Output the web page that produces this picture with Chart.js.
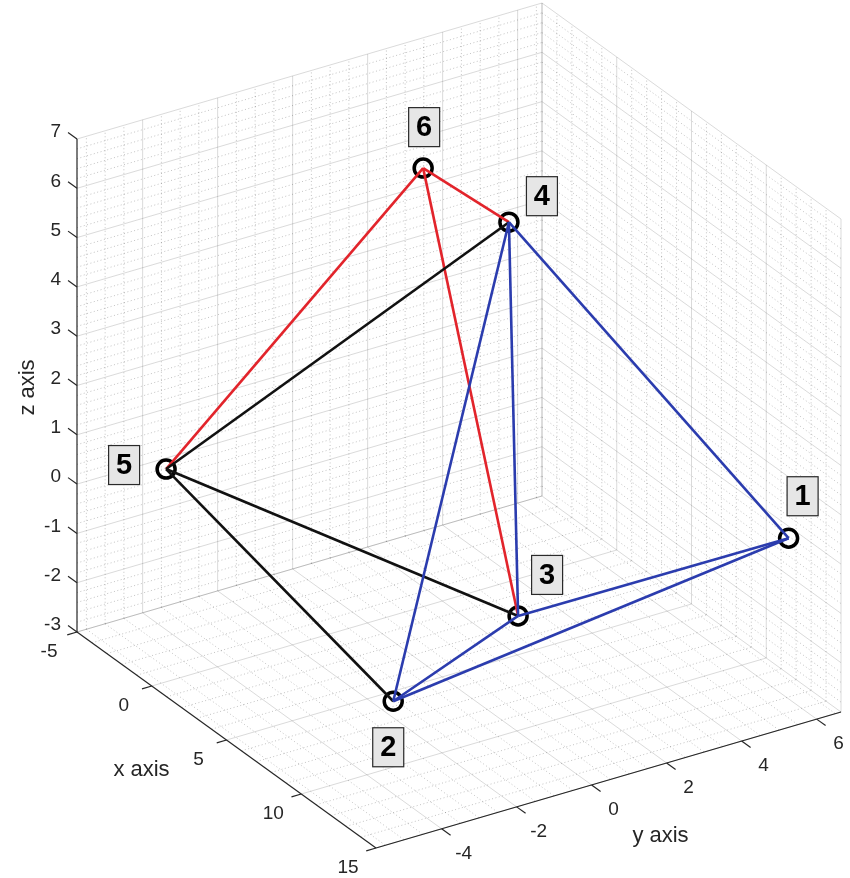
<!DOCTYPE html>
<html><head><meta charset="utf-8">
<script src="https://cdn.jsdelivr.net/npm/chart.js@4.4.1/dist/chart.umd.min.js"></script>
<style>html,body{margin:0;padding:0;background:#fff;overflow:hidden}</style>
</head><body>
<canvas id="c" width="850" height="878"></canvas>
<script>
// ---------------- data ----------------
const nodeIds = ['1', '2', '3', '4', '5', '6'];
const nodeX = [13, 8, 8, 4, -2, 2];
const nodeY = [6.05, -2.5, 0.83, 2.18, -4.57, 0.69];
const nodeZ = [0.22, -2.28, -1.29, 5.52, 0.70, 6.51];
const blueEdges = [[4, 1], [4, 2], [4, 3], [1, 2], [1, 3], [2, 3]];
const blackEdges = [[5, 4], [5, 3], [5, 2]];
const redEdges = [[6, 5], [6, 4], [6, 3]];
const xTicks = [-5, 0, 5, 10, 15];
const yTicks = [-4, -2, 0, 2, 4, 6];
const zTicks = [-3, -2, -1, 0, 1, 2, 3, 4, 5, 6, 7];
const xLimits = [-5, 15];
const yLimits = [-5.75, 6.65];
const zLimits = [-3, 7];
const axisTitles = { x: 'x axis', y: 'y axis', z: 'z axis' };
const minorStep = { x: 1, y: 0.5, z: 0.2 };

// ---------------- view / style ----------------
const view = { origin: [77, 632], ex: [299, 216], ey: [465, -136], ez: [0, -493] };
const labelOffsets = [[14, -42], [-5, 46], [29, -41], [33, -26], [-42, -4], [1, -41]];
const colors = { blue: '#2b3cae', black: '#111111', red: '#e2242b', axis: '#262626' };
const FONT = '"Liberation Sans", Arial, Helvetica, sans-serif';

function proj(x, y, z) {
  const u = (x - xLimits[0]) / (xLimits[1] - xLimits[0]);
  const v = (y - yLimits[0]) / (yLimits[1] - yLimits[0]);
  const w = (z - zLimits[0]) / (zLimits[1] - zLimits[0]);
  return {
    x: view.origin[0] + u * view.ex[0] + v * view.ey[0] + w * view.ez[0],
    y: view.origin[1] + u * view.ex[1] + v * view.ey[1] + w * view.ez[1]
  };
}
function stepValues(lo, hi, step, exclude) {
  const out = [];
  const n0 = Math.ceil(lo / step - 1e-9), n1 = Math.floor(hi / step + 1e-9);
  for (let n = n0; n <= n1; n++) {
    const v = Math.round(n * step * 1000) / 1000;
    if (!exclude.some(e => Math.abs(e - v) < 1e-6)) out.push(v);
  }
  return out;
}

const datasets = [];
function seg(a, b, style) {
  datasets.push(Object.assign({
    data: [proj(a[0], a[1], a[2]), proj(b[0], b[1], b[2])],
    showLine: true, pointRadius: 0, pointHoverRadius: 0, fill: false, tension: 0
  }, style));
}

const [x0, x1] = xLimits, [y0, y1] = yLimits, [z0, z1] = zLimits;
const majorStyle = { borderColor: 'rgba(38,38,38,0.17)', borderWidth: 1, order: 100 };
const minorStyle = { borderColor: 'rgba(38,38,38,0.28)', borderWidth: 1, borderDash: [1, 2.5], order: 101 };

const xMinor = stepValues(x0, x1, minorStep.x, xTicks);
const yMinor = stepValues(y0, y1, minorStep.y, yTicks);
const zMinor = stepValues(z0, z1, minorStep.z, zTicks);

function gridSet(xs, ys, zs, style) {
  // floor z = z0
  xs.forEach(x => seg([x, y0, z0], [x, y1, z0], style));
  ys.forEach(y => seg([x0, y, z0], [x1, y, z0], style));
  // left wall x = x0
  ys.forEach(y => seg([x0, y, z0], [x0, y, z1], style));
  zs.forEach(z => seg([x0, y0, z], [x0, y1, z], style));
  // right wall y = y1
  xs.forEach(x => seg([x, y1, z0], [x, y1, z1], style));
  zs.forEach(z => seg([x0, y1, z], [x1, y1, z], style));
}
gridSet(xMinor, yMinor, zMinor, minorStyle);
gridSet(xTicks, yTicks, zTicks, majorStyle);
seg([x0, y1, z0], [x0, y1, z1], majorStyle);

// axes lines and tick marks
const axisStyle = { borderColor: colors.axis, borderWidth: 1.2, order: 50 };
seg([x0, y0, z0], [x0, y0, z1], axisStyle);
seg([x0, y0, z0], [x1, y0, z0], axisStyle);
seg([x1, y0, z0], [x1, y1, z0], axisStyle);
zTicks.forEach(z => seg([x0, y0, z], [x0 - 0.6, y0, z], axisStyle));
xTicks.forEach(x => seg([x, y0, z0], [x, y0 - 0.26, z0], axisStyle));
yTicks.forEach(y => seg([x1, y, z0], [x1 + 0.6, y, z0], axisStyle));

// data edges
function node(i) { return [nodeX[i - 1], nodeY[i - 1], nodeZ[i - 1]]; }
redEdges.forEach(e => seg(node(e[0]), node(e[1]), { borderColor: colors.red, borderWidth: 2.6, order: 3 }));
blackEdges.forEach(e => seg(node(e[0]), node(e[1]), { borderColor: colors.black, borderWidth: 2.6, order: 2 }));
blueEdges.forEach(e => seg(node(e[0]), node(e[1]), { borderColor: colors.blue, borderWidth: 2.6, order: 1 }));

// nodes
datasets.push({
  data: nodeIds.map((id, i) => proj(nodeX[i], nodeY[i], nodeZ[i])),
  showLine: false, pointStyle: 'circle', pointRadius: 9, pointHoverRadius: 9,
  pointBorderWidth: 3.5, borderWidth: 3.5, pointBorderColor: '#000', borderColor: '#000',
  pointBackgroundColor: 'rgba(0,0,0,0)', backgroundColor: 'rgba(0,0,0,0)', order: 10
});

const textPlugin = {
  id: 'texts',
  afterDraw(chart) {
    const ctx = chart.ctx, sx = chart.scales.x, sy = chart.scales.y;
    const P = (x, y, z) => { const p = proj(x, y, z); return [sx.getPixelForValue(p.x), sy.getPixelForValue(p.y)]; };
    ctx.save();
    ctx.fillStyle = colors.axis;
    ctx.font = '19px ' + FONT;
    ctx.textBaseline = 'middle';
    ctx.textAlign = 'right';
    zTicks.forEach(t => { const [px, py] = P(x0, y0, t); ctx.fillText(String(t), px - 16, py - 7); });
    ctx.textAlign = 'center';
    xTicks.forEach(t => { const [px, py] = P(t, y0, z0); ctx.fillText(String(t), px - 28, py + 20); });
    yTicks.forEach(t => { const [px, py] = P(x1, t, z0); ctx.fillText(String(t), px + 22, py + 25); });
    // axis titles
    ctx.font = '22px ' + FONT;
    let [ax, ay] = P((x0 + x1) / 2, y0, z0);
    ctx.fillText(axisTitles.x, ax - 85, ay + 30);
    [ax, ay] = P(x1, (y0 + y1) / 2, z0);
    ctx.fillText(axisTitles.y, ax + 52, ay + 56);
    [ax, ay] = P(x0, y0, (z0 + z1) / 2);
    ctx.save();
    ctx.translate(ax - 49, ay + 2);
    ctx.rotate(-Math.PI / 2);
    ctx.fillText(axisTitles.z, 0, 0);
    ctx.restore();
    // node labels
    ctx.font = 'bold 29px ' + FONT;
    nodeIds.forEach((id, i) => {
      const [px, py] = P(nodeX[i], nodeY[i], nodeZ[i]);
      const cx = px + labelOffsets[i][0], cy = py + labelOffsets[i][1];
      const w = 32, h = 40;
      ctx.fillStyle = '#e6e6e6';
      ctx.fillRect(cx - w / 2, cy - h / 2, w, h);
      ctx.strokeStyle = '#2a2a2a';
      ctx.lineWidth = 1.2;
      ctx.strokeRect(cx - w / 2 + 0.5, cy - h / 2 + 0.5, w - 1, h - 1);
      ctx.fillStyle = '#000';
      ctx.fillText(id, cx, cy + 1);
    });
    ctx.restore();
  }
};

new Chart(document.getElementById('c'), {
  type: 'scatter',
  data: { datasets },
  options: {
    responsive: false,
    devicePixelRatio: 1,
    animation: false,
    events: [],
    layout: { padding: 0, autoPadding: false },
    plugins: { legend: { display: false }, tooltip: { enabled: false } },
    scales: {
      x: { type: 'linear', min: 0, max: 850, display: false },
      y: { type: 'linear', min: 0, max: 878, reverse: true, display: false }
    }
  },
  plugins: [textPlugin]
});
</script>
</body></html>
